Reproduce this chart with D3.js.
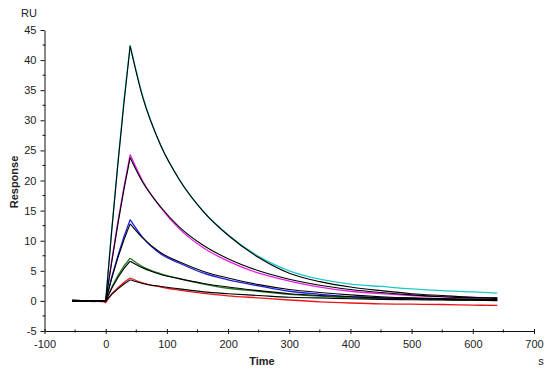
<!DOCTYPE html>
<html>
<head>
<meta charset="utf-8">
<script src="https://cdn.jsdelivr.net/npm/d3@7"></script>
<style>
  body { margin: 0; background: #fff; }
  svg { font-family: "Liberation Sans", Arial, sans-serif; }
  .tick text { fill: #222; font-size: 11px; }
</style>
</head>
<body>
<div id="chart"></div>
<script>
// time points (s)
const times = [-55, -40, -20, -5, 0, 10, 20, 30, 40, 60, 90, 120, 160, 200, 250, 300, 350, 400, 450, 500, 550, 600, 640];
const peakTime = 40;

// measured curves (RU)
const cyanData    = [0.1, 0.05, 0, 0, 0, 12, 23, 33.5, 42.5, 34.2, 25.8, 20.2, 14.8, 11.0, 7.4, 5.0, 3.6, 2.8, 2.4, 2.0, 1.7, 1.5, 1.3];
const magentaData = [0.1, 0.0, -0.1, -0.05, 0, 6.8, 13.2, 19, 24.3, 20.0, 15.5, 12.0, 8.8, 6.6, 4.6, 3.3, 2.3, 1.6, 1.2, 0.9, 0.7, 0.6, 0.5];
const blueData    = [0.1, 0.05, 0, 0, 0, 4, 7.5, 10.7, 13.5, 10.6, 7.8, 6.3, 4.6, 3.5, 2.5, 1.6, 1.1, 0.7, 0.5, 0.4, 0.3, 0.25, 0.2];
const greenData   = [0.1, 0.05, 0, 0, 0, 2.3, 4.2, 5.8, 7.1, 5.7, 4.5, 3.7, 2.8, 2.1, 1.6, 1.1, 0.8, 0.5, 0.35, 0.3, 0.2, 0.15, 0.1];
const redData     = [0.15, 0.05, -0.05, -0.1, -0.3, 1.2, 2.2, 3.1, 3.8, 3.0, 2.3, 1.8, 1.25, 0.85, 0.5, 0.15, -0.15, -0.35, -0.5, -0.55, -0.6, -0.7, -0.75];

// fitted curves (black)
const cyanFit    = [0, 0, 0, 0, 0, 11.8, 22.8, 33, 42.3, 34.0, 25.8, 20.2, 14.8, 10.9, 7.2, 4.6, 3.2, 2.3, 1.7, 1.2, 0.9, 0.6, 0.5];
const magentaFit = [0, 0, 0, 0, 0, 6.5, 12.8, 18.6, 23.8, 19.8, 15.6, 12.3, 9.2, 7.0, 5.0, 3.6, 2.6, 1.9, 1.4, 1.0, 0.7, 0.5, 0.4];
const blueFit    = [0, 0, 0, 0, 0, 3.8, 7.2, 10.2, 12.8, 10.5, 8.0, 6.5, 4.9, 3.8, 2.7, 1.9, 1.4, 1.0, 0.7, 0.5, 0.4, 0.3, 0.2];
const greenFit   = [0, 0, 0, 0, 0, 2.1, 3.9, 5.4, 6.6, 5.5, 4.4, 3.7, 2.9, 2.3, 1.7, 1.2, 0.9, 0.7, 0.5, 0.4, 0.3, 0.2, 0.2];
const redFit     = [0, 0, 0, 0, 0, 1.1, 2.0, 2.8, 3.5, 2.9, 2.4, 2.0, 1.5, 1.2, 0.9, 0.6, 0.5, 0.35, 0.25, 0.2, 0.15, 0.1, 0.05];

const xTicks = [-100, 0, 100, 200, 300, 400, 500, 600, 700];
const yTicks = [-5, 0, 5, 10, 15, 20, 25, 30, 35, 40, 45];

const series = [
    {name: "red", color: "#e8161b", data: redData, fit: redFit},
    {name: "green", color: "#1f7a1f", data: greenData, fit: greenFit},
    {name: "blue", color: "#1c1ce6", data: blueData, fit: blueFit},
    {name: "magenta", color: "#e61ee6", data: magentaData, fit: magentaFit},
    {name: "cyan", color: "#22c8c8", data: cyanData, fit: cyanFit}
];

const width = 552, height = 370;
const svg = d3.select("#chart").append("svg")
    .attr("width", width)
    .attr("height", height);

let xScale = d3.scaleLinear().domain([-100, 700]).range([44.5, 534]);
let yScale = d3.scaleLinear().domain([-5, 45]).range([331, 30]);

// axes (plain hyphen for negatives, like the original)
const plain = (d) => String(d);
let xAxis = d3.axisBottom(xScale).tickValues(xTicks).tickFormat(plain).tickSize(3).tickPadding(6).tickSizeOuter(0);
let yAxis = d3.axisLeft(yScale).tickValues(yTicks).tickFormat(plain).tickSize(4).tickPadding(4).tickSizeOuter(0);

const gx = svg.append("g").attr("transform", "translate(0," + yScale(-5) + ")").call(xAxis);
const gy = svg.append("g").attr("transform", "translate(" + xScale(-100) + ",0)").call(yAxis);
[gx, gy].forEach((g) => {
    g.select(".domain").attr("stroke", "#111");
    g.selectAll(".tick line").attr("stroke", "#111");
});
// x major ticks poke above the axis a little
gx.selectAll(".tick line").attr("y1", -2);

// minor ticks
const xMinor = d3.range(-50, 700, 100);
svg.append("g").selectAll("line").data(xMinor).enter().append("line")
    .attr("x1", (d) => xScale(d)).attr("x2", (d) => xScale(d))
    .attr("y1", yScale(-5) - 1.5).attr("y2", yScale(-5) + 1.5)
    .attr("stroke", "#111");
const yMinor = d3.range(-2.5, 45, 5);
svg.append("g").selectAll("line").data(yMinor).enter().append("line")
    .attr("x1", xScale(-100) - 2).attr("x2", xScale(-100) + 1)
    .attr("y1", (d) => yScale(d)).attr("y2", (d) => yScale(d))
    .attr("stroke", "#111");

// axis titles
svg.append("text").attr("x", 21).attr("y", 17).attr("font-size", 11).attr("fill", "#222").text("RU");
svg.append("text").attr("x", 262).attr("y", 365).attr("text-anchor", "middle")
    .attr("font-size", 11).attr("font-weight", "bold").attr("fill", "#222").text("Time");
svg.append("text").attr("x", 541).attr("y", 365).attr("text-anchor", "middle")
    .attr("font-size", 11).attr("fill", "#222").text("s");
svg.append("text").attr("transform", "translate(18,182) rotate(-90)").attr("text-anchor", "middle")
    .attr("font-size", 11).attr("font-weight", "bold").attr("fill", "#222").text("Response");

// association part is straight, dissociation part is smooth
const straight = d3.line().x((d) => xScale(d[0])).y((d) => yScale(d[1]));
const smooth = d3.line().x((d) => xScale(d[0])).y((d) => yScale(d[1])).curve(d3.curveMonotoneX);

const drawCurve = function(values, color, width) {
    const pts = times.map((t, i) => [t, values[i]]);
    const g = svg.append("g").attr("fill", "none").attr("stroke", color).attr("stroke-width", width);
    g.append("path").attr("d", straight(pts.filter((p) => p[0] <= peakTime)));
    g.append("path").attr("d", smooth(pts.filter((p) => p[0] >= peakTime)));
}

series.forEach((s) => drawCurve(s.data, s.color, 1.3));
series.forEach((s) => drawCurve(s.fit, "#000", 1.1));
</script>
</body>
</html>
